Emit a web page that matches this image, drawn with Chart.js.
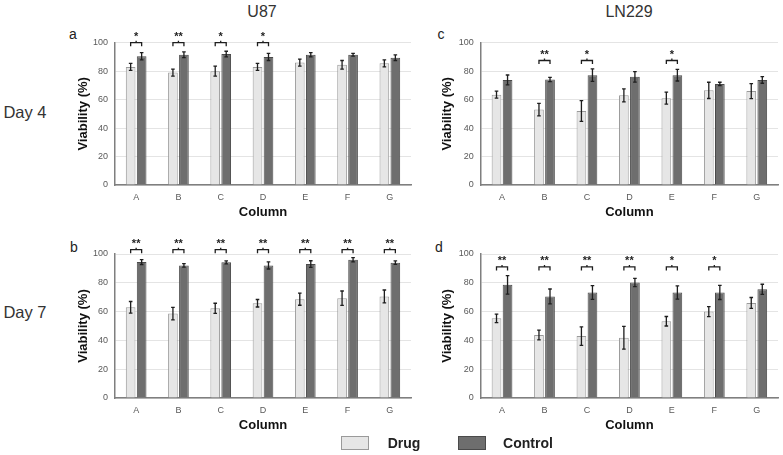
<!DOCTYPE html>
<html>
<head>
<meta charset="utf-8">
<title>Viability</title>
<script src="https://cdn.jsdelivr.net/npm/chart.js@4.4.0/dist/chart.umd.min.js"></script>
<style>
    body { margin: 0; width: 783px; height: 455px; background: #fff; position: relative; overflow: hidden;
           font-family: 'Liberation Sans', Arial, sans-serif; }
    .lbl { position: absolute; color: #222; white-space: nowrap; transform: translate(-50%, -50%); }
    .panel { position: absolute; }
    .swatch { position: absolute; width: 28px; height: 14px; box-sizing: border-box; }
</style>
</head>
<body>

<div class="lbl" style="left:262px; top:12px; font-size:16px; color:#333;">U87</div>
<div class="lbl" style="left:629px; top:12px; font-size:16px; color:#333;">LN229</div>
<div class="lbl" style="left:25px; top:112px; font-size:16.5px; color:#333;">Day 4</div>
<div class="lbl" style="left:25px; top:312px; font-size:16.5px; color:#333;">Day 7</div>

<div class="lbl" style="left:73px; top:34px; font-size:14px;">a</div>
<div class="lbl" style="left:441px; top:34px; font-size:14px;">c</div>
<div class="lbl" style="left:74px; top:247px; font-size:14px;">b</div>
<div class="lbl" style="left:439px; top:247px; font-size:14px;">d</div>

<div class="panel" style="left:72px; top:20px; width:348px; height:204px;"><canvas id="chartA"></canvas></div>
<div class="panel" style="left:436px; top:20px; width:347px; height:204px;"><canvas id="chartC"></canvas></div>
<div class="panel" style="left:72px; top:230px; width:348px; height:207px;"><canvas id="chartB"></canvas></div>
<div class="panel" style="left:436px; top:230px; width:347px; height:207px;"><canvas id="chartD"></canvas></div>

<!-- shared legend -->
<div class="swatch" style="left:341px; top:436px; background:#e6e6e6; border:1.5px solid #9a9a9a;"></div>
<div class="lbl" style="left:404px; top:443px; font-size:14px; font-weight:bold;">Drug</div>
<div class="swatch" style="left:458px; top:436px; background:#6e6e6e; border:1.5px solid #4a4a4a;"></div>
<div class="lbl" style="left:528px; top:443px; font-size:14px; font-weight:bold;">Control</div>

<script>
// --- Data ---
const columns = ['A', 'B', 'C', 'D', 'E', 'F', 'G'];
const yTicks = [0, 20, 40, 60, 80, 100];

// U87, day 4 (panel a)
const u87Day4Drug = [83, 79, 80, 83, 86, 84.5, 85.5];
const u87Day4DrugErr = [2.5, 2.5, 3.5, 2.5, 2.5, 3, 2.5];
const u87Day4Ctrl = [90.5, 91.5, 92, 90, 91.5, 91.5, 89.5];
const u87Day4CtrlErr = [2.5, 2, 2, 2.5, 1.5, 1, 2];
const u87Day4Sig = ['*', '**', '*', '*', '', '', ''];

// LN229, day 4 (panel c)
const lnDay4Drug = [63.5, 53, 52, 63, 61, 66.5, 66];
const lnDay4DrugErr = [2.5, 4.4, 7.3, 4.6, 4.2, 5.7, 5.3];
const lnDay4Ctrl = [73.8, 74.2, 77.2, 76, 77.2, 71, 73.8];
const lnDay4CtrlErr = [3.5, 1.5, 4.4, 3.7, 4.1, 1.2, 2.3];
const lnDay4Sig = ['', '**', '*', '', '*', '', ''];

// U87, day 7 (panel b)
const u87Day7Drug = [63, 58.6, 62.3, 65.8, 68.6, 69.3, 70.5];
const u87Day7DrugErr = [4, 4.4, 3.5, 2.6, 4.2, 5, 4.5];
const u87Day7Ctrl = [94.4, 92.1, 94.2, 92.1, 93, 96, 94];
const u87Day7CtrlErr = [1.7, 1.2, 1, 2.5, 2.3, 1.5, 1.2];
const u87Day7Sig = ['**', '**', '**', '**', '**', '**', '**'];

// LN229, day 7 (panel d)
const lnDay7Drug = [55.3, 43.7, 43, 41.9, 53.3, 60, 66];
const lnDay7DrugErr = [2.9, 3.4, 6.4, 7.9, 3.3, 3.5, 3.8];
const lnDay7Ctrl = [78.6, 70.5, 73.3, 80.2, 73.3, 73.3, 75.5];
const lnDay7CtrlErr = [6.4, 5.2, 4.8, 2.9, 4.6, 4.9, 3.5];
const lnDay7Sig = ['**', '**', '**', '**', '*', '*', ''];

Chart.defaults.font.family = "'Liberation Sans', Arial, sans-serif";
Chart.defaults.color = '#595959';

// --- Error bars: drawn on top of each bar from the y scale ---
const errorBars = {
    id: 'errorBars',
    afterDatasetsDraw(chart, args, opts) {
        const ctx = chart.ctx;
        const y = chart.scales.y;
        const errs = [opts.drug, opts.ctrl];
        ctx.save();
        ctx.strokeStyle = '#1e1e1e';
        ctx.lineWidth = 1.3;
        chart.data.datasets.forEach((ds, i) => {
            chart.getDatasetMeta(i).data.forEach((bar, j) => {
                const e = errs[i][j];
                const top = y.getPixelForValue(ds.data[j] + e);
                const bot = y.getPixelForValue(ds.data[j] - e);
                ctx.beginPath();
                ctx.moveTo(bar.x, top); ctx.lineTo(bar.x, bot);
                ctx.moveTo(bar.x - 1.8, top); ctx.lineTo(bar.x + 1.8, top);
                ctx.moveTo(bar.x - 1.8, bot); ctx.lineTo(bar.x + 1.8, bot);
                ctx.stroke();
            });
        });
        ctx.restore();
    }
};

// --- Significance brackets ---
const sigBrackets = {
    id: 'sigBrackets',
    afterDatasetsDraw(chart, args, opts) {
        const ctx = chart.ctx;
        const yPix = chart.scales.y.getPixelForValue(opts.level);
        const drugBars = chart.getDatasetMeta(0).data;
        const ctrlBars = chart.getDatasetMeta(1).data;
        ctx.save();
        ctx.strokeStyle = '#1e1e1e';
        ctx.fillStyle = '#1e1e1e';
        ctx.lineWidth = 1.3;
        ctx.font = "bold 11px 'Liberation Sans', Arial, sans-serif";
        ctx.textAlign = 'center';
        ctx.textBaseline = 'alphabetic';
        opts.marks.forEach((m, j) => {
            if (!m) return;
            const x1 = drugBars[j].x, x2 = ctrlBars[j].x, mid = (x1 + x2) / 2;
            ctx.beginPath();
            ctx.moveTo(x1, yPix + 3.5); ctx.lineTo(x1, yPix); ctx.lineTo(x2, yPix); ctx.lineTo(x2, yPix + 3.5);
            ctx.moveTo(mid, yPix); ctx.lineTo(mid, yPix - 2);
            ctx.stroke();
            ctx.fillText(m, mid, yPix - 2.5);
        });
        ctx.restore();
    }
};

function makePanel(id, drug, drugErr, ctrl, ctrlErr, sig, level, yWidth, pad) {
    const ctx = document.getElementById(id);
    return new Chart(ctx, {
        type: 'bar',
        data: {
            labels: columns,
            datasets: [
                { label: 'Drug', data: drug, backgroundColor: '#e6e6e6', borderColor: '#9a9a9a', borderWidth: 1 },
                { label: 'Control', data: ctrl, backgroundColor: '#6e6e6e', borderColor: '#4a4a4a', borderWidth: 1 }
            ]
        },
        options: {
            responsive: true,
            maintainAspectRatio: false,
            animation: false,
            datasets: { bar: { categoryPercentage: 0.52, barPercentage: 0.88 } },
            layout: { padding: pad },
            plugins: {
                legend: { display: false },
                tooltip: { enabled: false },
                errorBars: { drug: drugErr, ctrl: ctrlErr },
                sigBrackets: { marks: sig, level: level }
            },
            scales: {
                x: {
                    grid: { display: false, drawTicks: false },
                    border: { color: '#7f7f7f', width: 1.5 },
                    ticks: { padding: 7, font: { size: 9 }, color: '#595959' },
                    title: { display: true, text: 'Column', color: '#111', font: { size: 13, weight: 'bold' }, padding: { top: 4, bottom: 4 } },
                    afterFit: s => { s.height = 39; }
                },
                y: {
                    min: 0, max: 100,
                    afterBuildTicks: s => { s.ticks = yTicks.map(v => ({ value: v })); },
                    grid: { color: '#e4e4e4', lineWidth: 1, drawTicks: false },
                    border: { color: '#7f7f7f', width: 1.5 },
                    ticks: { padding: 7, font: { size: 9 }, color: '#595959' },
                    title: { display: true, text: 'Viability (%)', color: '#111', font: { size: 13, weight: 'bold' }, padding: { top: 4, bottom: 4 } },
                    afterFit: s => { s.width = yWidth; }
                }
            }
        },
        plugins: [errorBars, sigBrackets]
    });
}

makePanel('chartA', u87Day4Drug, u87Day4DrugErr, u87Day4Ctrl, u87Day4CtrlErr, u87Day4Sig, 100, 43, { top: 22.7, right: 9 });
makePanel('chartC', lnDay4Drug, lnDay4DrugErr, lnDay4Ctrl, lnDay4CtrlErr, lnDay4Sig, 87.5, 44.8, { top: 22.7, right: 5 });
makePanel('chartB', u87Day7Drug, u87Day7DrugErr, u87Day7Ctrl, u87Day7CtrlErr, u87Day7Sig, 103, 43, { top: 24, right: 9 });
makePanel('chartD', lnDay7Drug, lnDay7DrugErr, lnDay7Ctrl, lnDay7CtrlErr, lnDay7Sig, 91, 44.8, { top: 24, right: 5 });
</script>
</body>
</html>
